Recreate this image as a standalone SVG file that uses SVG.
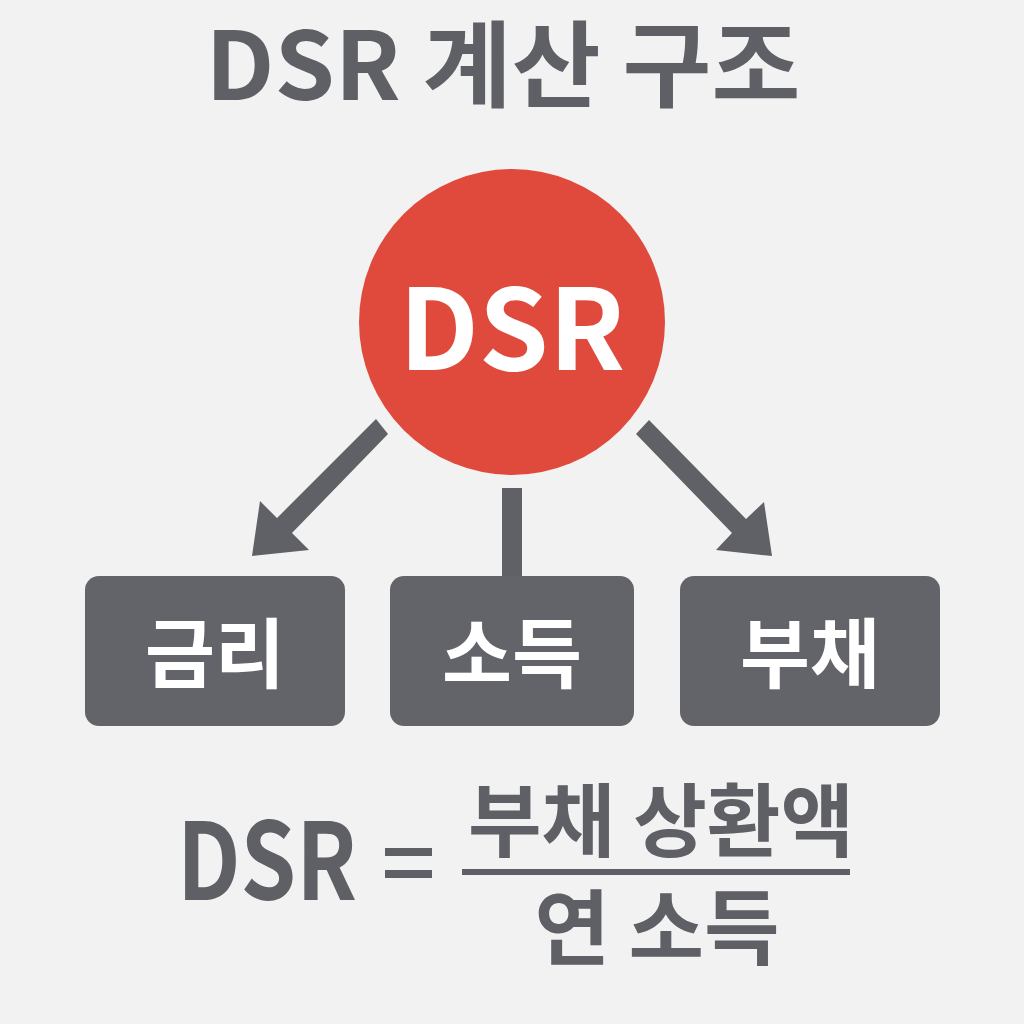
<svg xmlns="http://www.w3.org/2000/svg" width="1024" height="1024" viewBox="0 0 1024 1024">
  <style>
    .t { font-family: "Noto Sans CJK KR", "Noto Sans", sans-serif; font-weight: 700; }
    .g { fill: #5f6065; }
    .w { fill: #ffffff; }
    .box { fill: #63646a; }
    .conn { fill: #606166; }
  </style>
  <rect width="1024" height="1024" fill="#f2f2f2"/>
  <g id="title">
    <text class="t g" x="503" y="100" font-size="94" text-anchor="middle" textLength="595" lengthAdjust="spacingAndGlyphs">DSR 계산 구조</text>
  </g>
  <g id="connectors">
    <polygon class="conn" points="376,419 388,434 292,533 309,550 252,556 260,501 277,518"/>
    <rect class="conn" x="502" y="488" width="20" height="92"/>
    <polygon class="conn" points="649,420 636,434 732,533 716,550 772,556 764,502 746,519"/>
  </g>
  <g id="node-dsr">
    <circle cx="512" cy="322" r="153" fill="#e04a3d"/>
    <text class="t w" x="512" y="370" font-size="112" text-anchor="middle">DSR</text>
  </g>
  <g id="node-rate">
    <rect class="box" x="85" y="576" width="260" height="150" rx="14"/>
    <text class="t w" x="215" y="682" font-size="76" text-anchor="middle">금리</text>
  </g>
  <g id="node-income">
    <rect class="box" x="390" y="576" width="244" height="150" rx="14"/>
    <text class="t w" x="512" y="682" font-size="76" text-anchor="middle">소득</text>
  </g>
  <g id="node-debt">
    <rect class="box" x="680" y="576" width="260" height="150" rx="14"/>
    <text class="t w" x="810" y="682" font-size="76" text-anchor="middle">부채</text>
  </g>
  <g id="formula">
    <text class="t g" x="267" y="900" font-size="107" text-anchor="middle" textLength="180" lengthAdjust="spacingAndGlyphs">DSR</text>
    <rect class="g" x="385" y="848" width="47" height="8"/>
    <rect class="g" x="385" y="870" width="47" height="8"/>
    <rect class="g" x="462" y="869" width="388" height="6"/>
    <text class="t g" x="661" y="850" font-size="80" text-anchor="middle">부채 상환액</text>
    <text class="t g" x="657" y="958" font-size="82" text-anchor="middle">연 소득</text>
  </g>
</svg>
